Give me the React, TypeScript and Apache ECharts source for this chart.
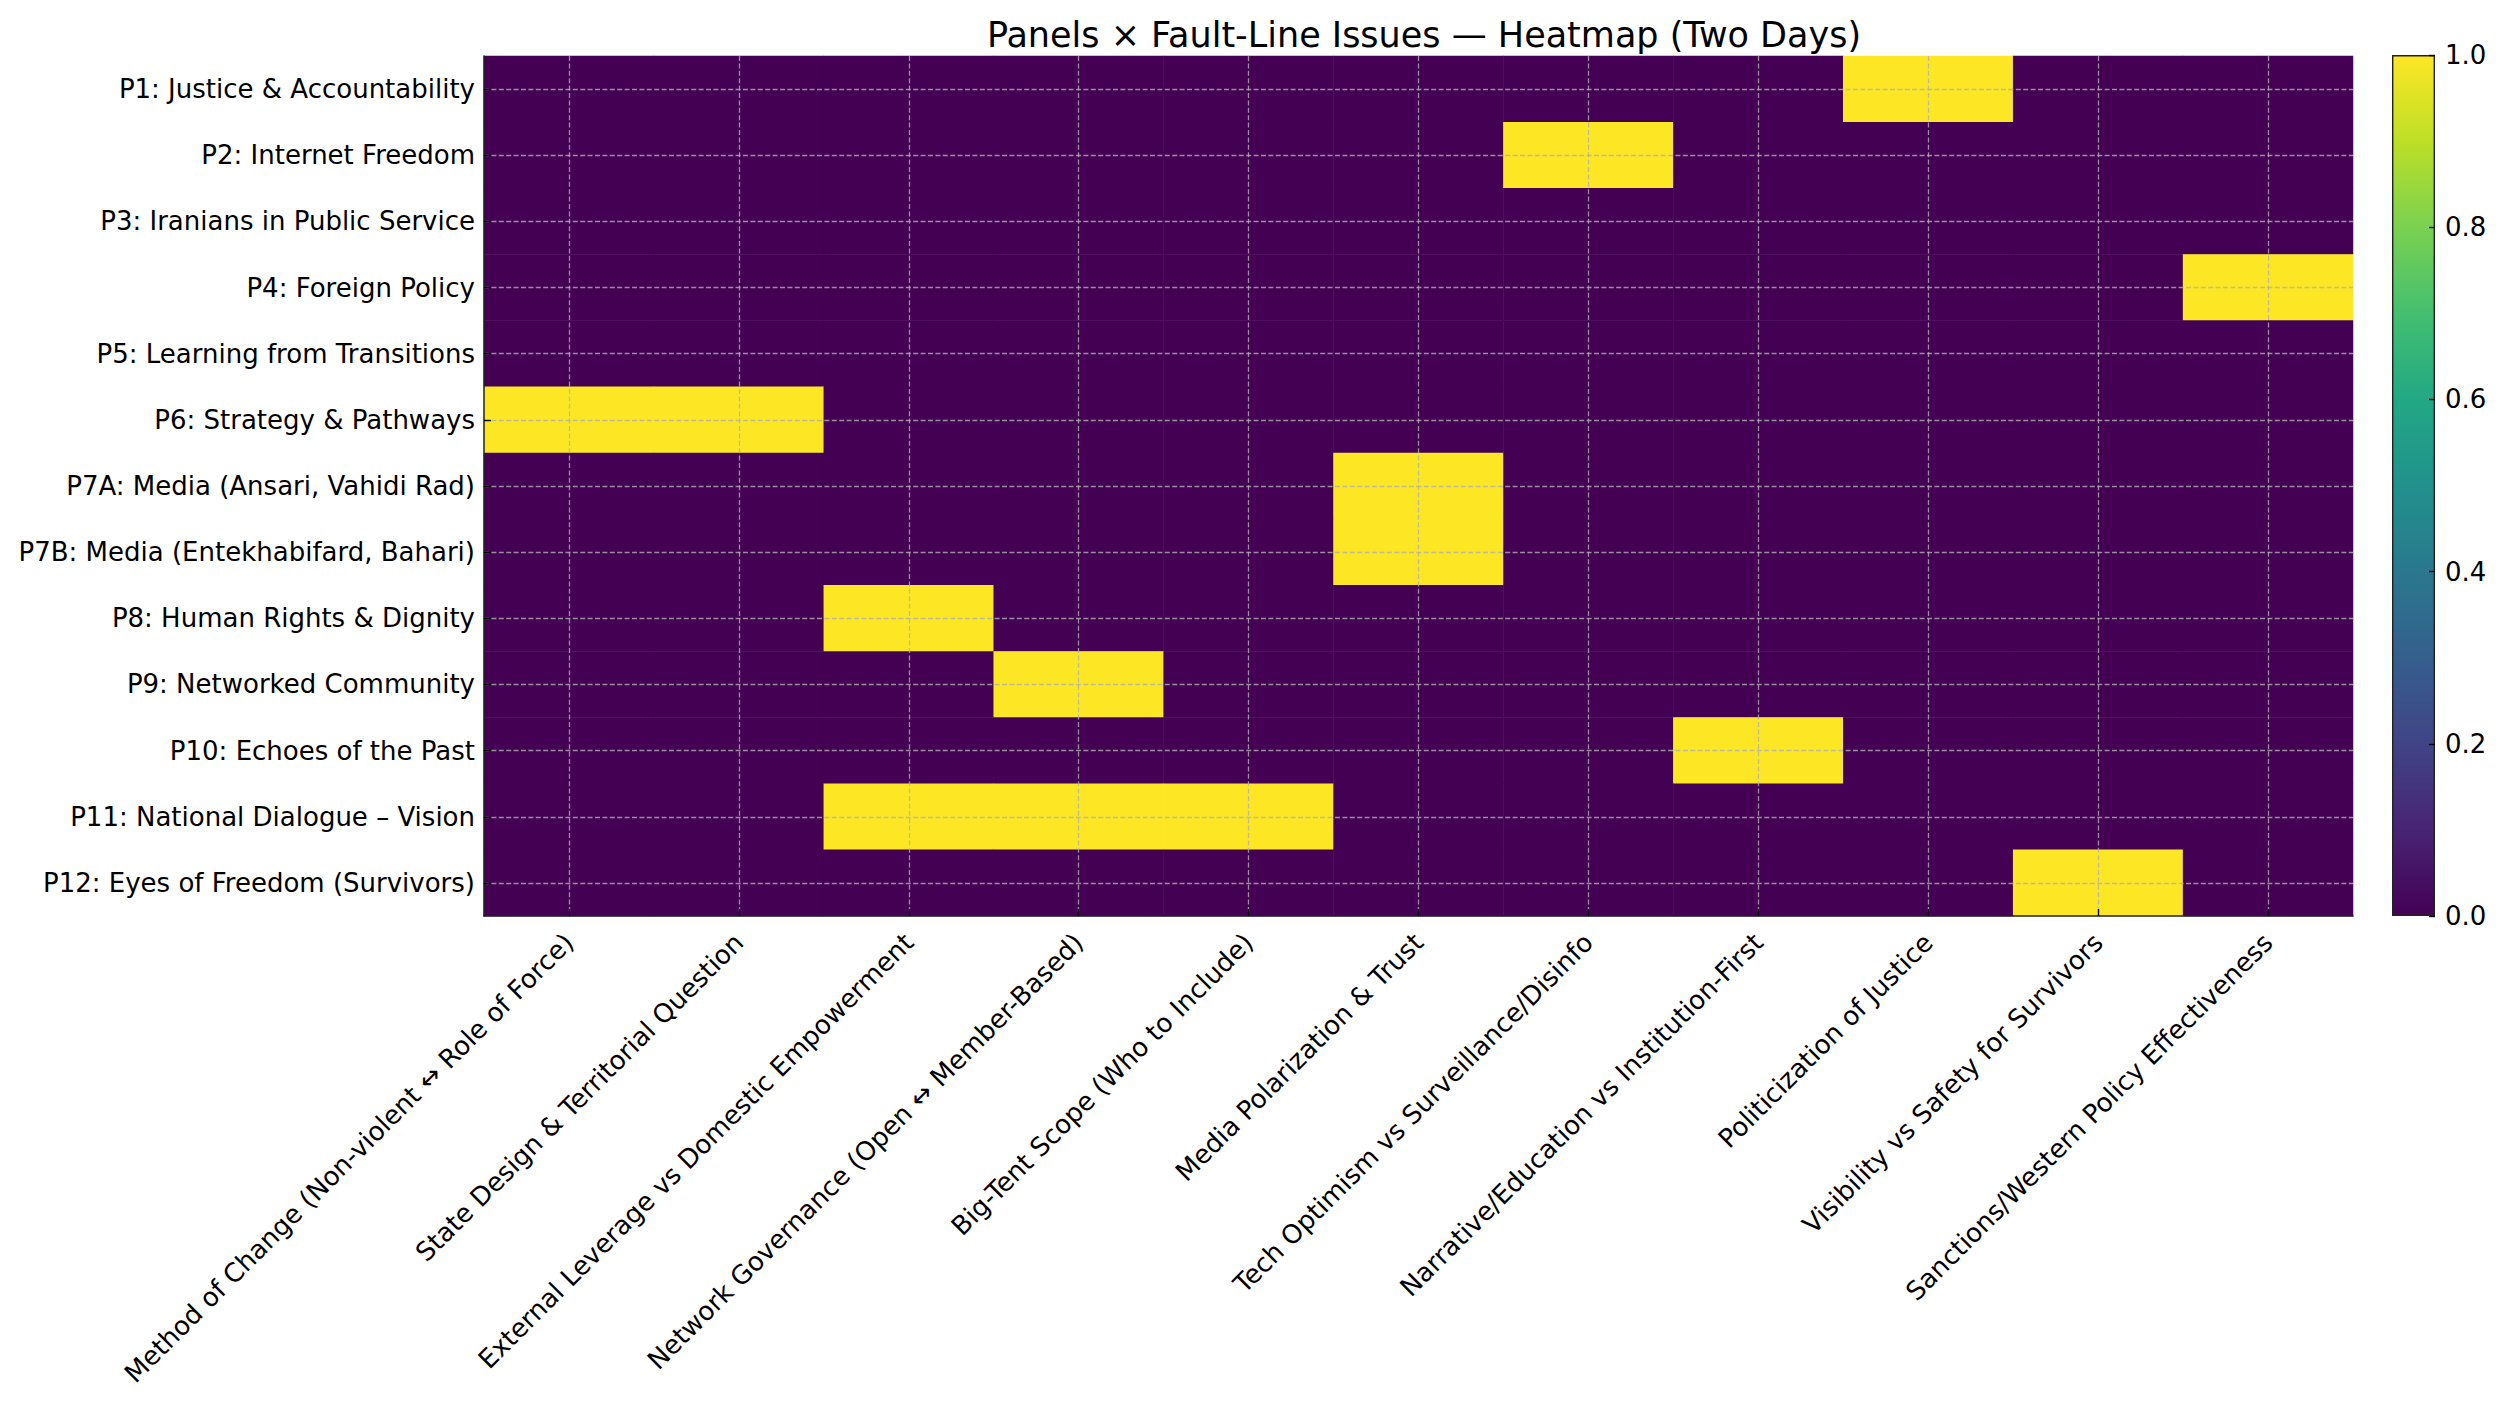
import React, { useEffect, useRef } from "react";
import * as echarts from "echarts";

const title = "Panels × Fault-Line Issues — Heatmap (Two Days)";

const issues = [
  "Method of Change (Non-violent ↔ Role of Force)",
  "State Design & Territorial Question",
  "External Leverage vs Domestic Empowerment",
  "Network Governance (Open ↔ Member-Based)",
  "Big-Tent Scope (Who to Include)",
  "Media Polarization & Trust",
  "Tech Optimism vs Surveillance/Disinfo",
  "Narrative/Education vs Institution-First",
  "Politicization of Justice",
  "Visibility vs Safety for Survivors",
  "Sanctions/Western Policy Effectiveness",
];

const panels = [
  "P1: Justice & Accountability",
  "P2: Internet Freedom",
  "P3: Iranians in Public Service",
  "P4: Foreign Policy",
  "P5: Learning from Transitions",
  "P6: Strategy & Pathways",
  "P7A: Media (Ansari, Vahidi Rad)",
  "P7B: Media (Entekhabifard, Bahari)",
  "P8: Human Rights & Dignity",
  "P9: Networked Community",
  "P10: Echoes of the Past",
  "P11: National Dialogue – Vision",
  "P12: Eyes of Freedom (Survivors)",
];

// one row per panel, one value per issue
const matrix = [
  [0, 0, 0, 0, 0, 0, 0, 0, 1, 0, 0],
  [0, 0, 0, 0, 0, 0, 1, 0, 0, 0, 0],
  [0, 0, 0, 0, 0, 0, 0, 0, 0, 0, 0],
  [0, 0, 0, 0, 0, 0, 0, 0, 0, 0, 1],
  [0, 0, 0, 0, 0, 0, 0, 0, 0, 0, 0],
  [1, 1, 0, 0, 0, 0, 0, 0, 0, 0, 0],
  [0, 0, 0, 0, 0, 1, 0, 0, 0, 0, 0],
  [0, 0, 0, 0, 0, 1, 0, 0, 0, 0, 0],
  [0, 0, 1, 0, 0, 0, 0, 0, 0, 0, 0],
  [0, 0, 0, 1, 0, 0, 0, 0, 0, 0, 0],
  [0, 0, 0, 0, 0, 0, 0, 1, 0, 0, 0],
  [0, 0, 1, 1, 1, 0, 0, 0, 0, 0, 0],
  [0, 0, 0, 0, 0, 0, 0, 0, 0, 1, 0],
];

const colorbarValue = [1];
const colorbarTicks = { min: 0, max: 1, interval: 0.2 };

const viridis = [
  "#440154", "#482475", "#414487", "#355f8d", "#2a788e", "#21918c",
  "#22a884", "#44bf70", "#7ad151", "#bddf26", "#fde725",
];

const FONT = "DejaVu Sans";
const LABEL_SIZE = 26;

export default function App() {
  const ref = useRef<HTMLDivElement>(null);

  useEffect(() => {
    document.body.style.margin = "0";
    if (!ref.current) return;
    const chart = echarts.init(ref.current, undefined, { renderer: "svg" });

    const data: number[][] = [];
    matrix.forEach((row, yi) => row.forEach((v, xi) => data.push([xi, yi, v])));

    const gridLineStyle = {
      type: [5, 2.4] as any,
      color: "rgba(176,176,176,0.8)",
      width: 1.3,
    };

    const tickStyle = { color: "#000", width: 1.4 };

    const option: any = {
      animation: false,
      backgroundColor: "#ffffff",
      textStyle: { fontFamily: FONT },
      title: {
        text: title,
        left: 1419,
        textAlign: "center",
        top: 12,
        textStyle: { fontFamily: FONT, fontSize: 35, fontWeight: "normal", color: "#000" },
      },
      grid: [
        { left: 484, right: 147, top: 56, bottom: 486 },
        { left: 2392, width: 43, top: 55, bottom: 486 },
      ],
      xAxis: [
        {
          type: "category",
          gridIndex: 0,
          data: issues,
          boundaryGap: true,
          axisLine: { show: true, lineStyle: { color: "#222", width: 1.5 } },
          axisTick: { show: true, inside: true, alignWithLabel: true, length: 7, lineStyle: tickStyle },
          axisLabel: {
            interval: 0,
            rotate: 45,
            margin: 22,
            fontSize: LABEL_SIZE,
            fontFamily: FONT,
            color: "#000",
          },
          splitLine: { show: false },
          z: 5,
        },
        {
          type: "category",
          gridIndex: 1,
          data: ["cb"],
          show: false,
        },
      ],
      yAxis: [
        {
          type: "category",
          gridIndex: 0,
          data: panels,
          inverse: true,
          axisLine: { show: true, lineStyle: { color: "#222", width: 1.5 } },
          axisTick: { show: true, inside: true, alignWithLabel: true, length: 7, lineStyle: tickStyle },
          axisLabel: { fontSize: LABEL_SIZE, fontFamily: FONT, color: "#000", margin: 9 },
          splitLine: { show: false },
          z: 5,
        },
        {
          type: "value",
          gridIndex: 1,
          position: "right",
          min: colorbarTicks.min,
          max: colorbarTicks.max,
          interval: colorbarTicks.interval,
          axisLine: { show: false },
          axisTick: { show: true, length: 6, inside: true, lineStyle: tickStyle },
          axisLabel: {
            fontSize: LABEL_SIZE,
            fontFamily: FONT,
            color: "#000",
            margin: 10,
            formatter: (v: number) => v.toFixed(1),
          },
          splitLine: { show: false },
          z: 5,
        },
      ],
      visualMap: {
        show: false,
        type: "continuous",
        min: 0,
        max: 1,
        seriesIndex: 0,
        inRange: { color: viridis },
      },
      series: [
        {
          type: "heatmap",
          xAxisIndex: 0,
          yAxisIndex: 0,
          data,
          itemStyle: { borderWidth: 0 },
          emphasis: { disabled: true },
          markLine: {
            silent: true,
            symbol: ["none", "none"],
            label: { show: false },
            lineStyle: gridLineStyle,
            emphasis: { disabled: true },
            data: [
              ...issues.map((c) => ({ xAxis: c, lineStyle: gridLineStyle })),
              ...panels.map((p) => ({ yAxis: p, lineStyle: gridLineStyle })),
            ],
          },
        },
        {
          type: "bar",
          xAxisIndex: 1,
          yAxisIndex: 1,
          data: colorbarValue,
          barWidth: "100%",
          silent: true,
          itemStyle: {
            borderColor: "#222",
            borderWidth: 1.4,
            color: new echarts.graphic.LinearGradient(
              0, 1, 0, 0,
              viridis.map((c, i) => ({ offset: i / (viridis.length - 1), color: c }))
            ),
          },
        },
      ],
    };

    chart.setOption(option);
    return () => chart.dispose();
  }, []);

  return <div ref={ref} style={{ width: 2500, height: 1402 }} />;
}
